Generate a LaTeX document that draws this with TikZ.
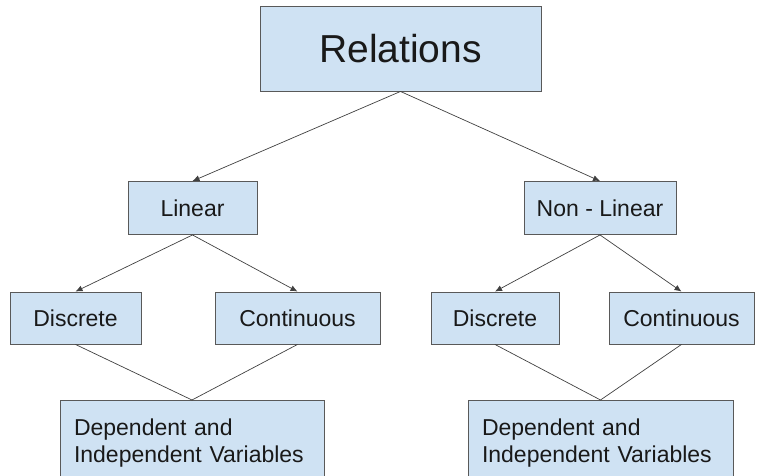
\documentclass[tikz,border=0pt]{standalone}
\usepackage{fontspec}
\setmainfont{Liberation Sans}
\usetikzlibrary{arrows.meta}
\definecolor{boxblue}{HTML}{CFE2F3}
\definecolor{boxline}{HTML}{595959}
\definecolor{linkgray}{HTML}{404040}
\begin{document}
\begin{tikzpicture}[x=1pt, y=-1pt,
    concept/.style={draw=boxline, fill=boxblue, rectangle, line width=0.9pt, minimum height=53pt, inner sep=0pt, text=black!90, font=\fontsize{23}{27}\selectfont},
    leaf/.style={concept, anchor=north, align=left, text width=236pt, inner xsep=14pt, inner ysep=18pt},
    arrow/.style={-{Latex[length=7pt,width=6pt]}, draw=linkgray, line width=0.7pt},
    link/.style={draw=linkgray, line width=0.7pt}]

    \useasboundingbox (0,0) rectangle (764,476);

    % Root
    \node[concept, minimum width=281pt, minimum height=85pt, font=\fontsize{39}{44}\selectfont] (rel) at (400.5,48.5) {Relations};

    % Layer 1: kinds of relation
    \node[concept, minimum width=129pt] (lin) at (192.5,208) {Linear};
    \node[concept, minimum width=152pt] (nonlin) at (600,208) {Non - Linear};

    \draw[arrow] (rel.south) -- (lin.north);
    \draw[arrow] (rel.south) -- (nonlin.north);

    % Layer 2: discrete / continuous
    \node[concept, minimum width=131pt, minimum height=52pt] (lindisc) at (75.5,318) {Discrete};
    \node[concept, minimum width=165pt, minimum height=52pt] (lincont) at (297.5,318) {Continuous};
    \node[concept, minimum width=128pt, minimum height=52pt] (nldisc) at (495,318) {Discrete};
    \node[concept, minimum width=145pt, minimum height=52pt] (nlcont) at (681.5,318) {Continuous};

    \draw[arrow] (lin.south) -- (lindisc.north);
    \draw[arrow] (lin.south) -- (lincont.north);
    \draw[arrow] (nonlin.south) -- (nldisc.north);
    \draw[arrow] (nonlin.south) -- (nlcont.north);

    % Layer 3: variables
    \node[leaf] (linvar) at (192,400) {Dependent and\\Independent Variables};
    \node[leaf, text width=237pt] (nlvar) at (600.5,400) {Dependent and\\Independent Variables};

    \draw[link] (lindisc.south) -- (linvar.north);
    \draw[link] (lincont.south) -- (linvar.north);
    \draw[link] (nldisc.south) -- (nlvar.north);
    \draw[link] (nlcont.south) -- (nlvar.north);
\end{tikzpicture}
\end{document}
